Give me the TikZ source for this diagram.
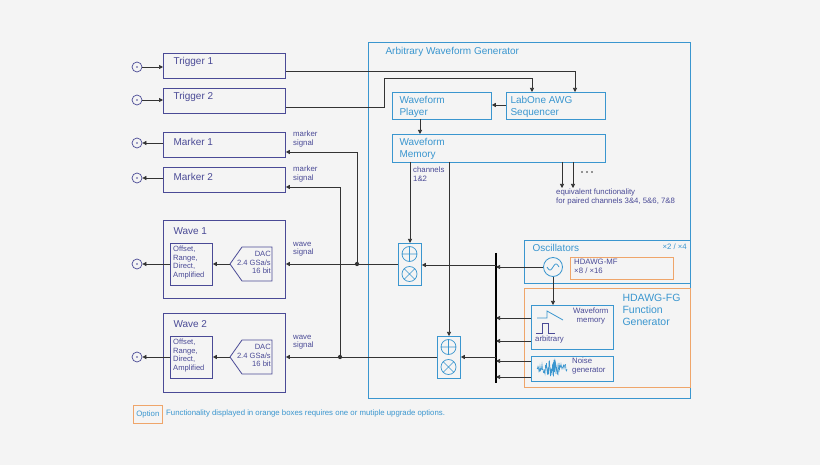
\documentclass[tikz,border=0pt]{standalone}
\usepackage{fontspec}
\setmainfont{Liberation Sans}
\usetikzlibrary{arrows.meta,positioning}
\definecolor{navy}{HTML}{4A4A96}
\definecolor{awgblue}{HTML}{3A96CF}
\definecolor{opt}{HTML}{EFA56A}
\definecolor{bg}{HTML}{F4F4F4}
\definecolor{wire}{HTML}{333333}
\begin{document}
\begin{tikzpicture}[x=1pt,y=-1pt,
	box/.style={draw=navy,line width=0.8pt,anchor=north west,inner sep=0pt},
	bbox/.style={draw=awgblue,line width=0.8pt,anchor=north west,inner sep=0pt},
	obox/.style={draw=opt,line width=0.8pt,anchor=north west,inner sep=0pt},
	title/.style={anchor=west,text=navy,font=\fontsize{10}{12}\selectfont},
	btitle/.style={anchor=north west,text=awgblue,align=left,font=\fontsize{10}{11.5}\selectfont},
	small/.style={anchor=north west,text=navy,align=left,inner sep=1pt,font=\fontsize{7.8}{8.6}\selectfont},
	inbox/.style={small,font=\fontsize{7.6}{8.5}\selectfont},
	jack/.style={draw=navy,circle,line width=0.7pt,minimum size=10pt,inner sep=0pt,
		path picture={\fill[navy] (path picture bounding box.center) circle (0.9pt);}},
	arr/.style={draw=wire,line width=0.7pt,-{Triangle[length=4pt,width=4pt]}},
	dot/.style={fill=wire,circle,inner sep=1.5pt}]
	\fill[bg] (0,0) rectangle (820,465);

	% inputs and outputs on the left
	\foreach \n/\y in {j1/67, j2/100, j3/143, j4/178, j5/264, j6/357}
		\node[jack] (\n) at (137,\y) {};

	\node[box,minimum width=122pt,minimum height=25pt] (trig1) at (163,53) {};
	\node[box,minimum width=122pt,minimum height=25pt] (trig2) at (163,88) {};
	\node[box,minimum width=122pt,minimum height=25pt] (mark1) at (163,132) {};
	\node[box,minimum width=122pt,minimum height=25pt] (mark2) at (163,167) {};
	\node[box,minimum width=122pt,minimum height=78pt] (wave1) at (163,220) {};
	\node[box,minimum width=122pt,minimum height=79pt] (wave2) at (163,313) {};
	\node[title] at (170,62) {Trigger 1};
	\node[title] at (170,97) {Trigger 2};
	\node[title] at (170,142) {Marker 1};
	\node[title] at (170,177) {Marker 2};
	\node[title] at (170,231) {Wave 1};
	\node[title] at (170,324) {Wave 2};

	\foreach \n/\y in {1/243, 2/336} {
		\node[box,minimum width=42pt,minimum height=42pt] (amp\n) at (170,\y) {};
		\node[inbox] at (172,\y+2) {Offset,\\Range,\\Direct,\\Amplified};
		\draw[navy,line width=0.8pt] (272,\y+4) -- (242,\y+4) -- (230,\y+21) -- (242,\y+38) -- (272,\y+38) -- cycle;
		\coordinate (dac\n) at (272,\y+21);
		\coordinate (dacin\n) at (230,\y+21);
		\node[inbox,align=right,anchor=north east] at (272,\y+7) {DAC\\2.4 GSa/s\\16 bit};
	}

	\draw[arr] (j1.east) -- (trig1.west |- j1);
	\draw[arr] (j2.east) -- (trig2.west |- j2);
	\draw[arr] (mark1.west |- j3) -- (j3.east);
	\draw[arr] (mark2.west |- j4) -- (j4.east);
	\draw[arr] (amp1.west |- j5) -- (j5.east);
	\draw[arr] (amp2.west |- j6) -- (j6.east);
	\draw[arr] (dacin1) -- (amp1.east |- dacin1);
	\draw[arr] (dacin2) -- (amp2.east |- dacin2);

	% arbitrary waveform generator
	\node[bbox,minimum width=322pt,minimum height=356pt] (awg) at (368,42) {};
	\node[btitle] at (382,44) {Arbitrary Waveform Generator};
	\node[bbox,minimum width=99pt,minimum height=27pt] (player) at (392,92) {};
	\node[btitle] at (396,93) {Waveform\\Player};
	\node[bbox,minimum width=99pt,minimum height=27pt] (seq) at (506,92) {};
	\node[btitle] at (507,93) {LabOne AWG\\Sequencer};
	\node[bbox,minimum width=213pt,minimum height=28pt] (mem) at (392,134) {};
	\node[btitle] at (396,135) {Waveform\\Memory};

	\draw[arr] (trig1.east |- 0,71) -| (575,92);
	\draw[arr] (trig2.east |- 0,107) -- (384,107) |- (532,78) -- (532,92);
	\draw[arr] (seq.west |- 0,105) -- (player.east |- 0,105);
	\draw[arr] (420,119) -- (420,134);
	\draw[arr] (562,162) -- (562,188);
	\draw[arr] (573,162) -- (573,188);
	\foreach \x in {582,587,592}
		\fill[wire] (\x,172) circle (0.9);
	\node[small] at (555,188) {equivalent functionality\\for paired channels 3\&4, 5\&6, 7\&8};
	\node[small] at (412,166) {channels\\1\&2};

	% adders and multipliers
	\foreach \n/\x/\y in {1/398/243, 2/437/336} {
		\node[bbox,minimum width=23pt,minimum height=42pt] (mix\n) at (\x,\y) {};
		\draw[awgblue,line width=0.7pt] (\x+11.5,\y+11) circle (7.5) (\x+4,\y+11) -- (\x+19,\y+11) (\x+11.5,\y+3.5) -- (\x+11.5,\y+18.5);
		\draw[awgblue,line width=0.7pt] (\x+11.5,\y+31) circle (7.5) (\x+6.2,\y+25.7) -- (\x+16.8,\y+36.3) (\x+6.2,\y+36.3) -- (\x+16.8,\y+25.7);
	}
	\draw[arr] (410,162) -- (mix1.north -| 410,0);
	\draw[arr] (449,162) -- (mix2.north -| 449,0);

	% bus
	\coordinate (bustop) at (496,253);
	\coordinate (busbot) at (496,383);
	\draw[line width=2pt] (bustop) -- (busbot);
	\draw[arr] (496,265) -- (mix1.east |- 0,265);
	\draw[arr] (496,357) -- (mix2.east |- 0,357);

	% outputs of the mixers
	\node[dot] (split1) at (357,264) {};
	\node[dot] (split2) at (340,357) {};
	\draw[arr] (mix1.west |- split1) -- (wave1.east |- split1);
	\draw[arr] (mix2.west |- split2) -- (wave2.east |- split2);
	\draw[arr] (split1) |- (mark1.east |- 0,152);
	\draw[arr] (split2) |- (mark2.east |- 0,187);
	\node[small] at (292,130) {marker\\signal};
	\node[small] at (292,165) {marker\\signal};
	\node[small] at (292,241) {wave\\signal};
	\node[small] at (292,334) {wave\\signal};

	% oscillators
	\node[bbox,minimum width=166pt,minimum height=43pt] (osc) at (524,240) {};
	\node[btitle] at (529,241) {Oscillators};
	\node[small,text=awgblue,anchor=north east] at (688,243) {×2 / ×4};
	\node[obox,minimum width=103pt,minimum height=22pt] (mf) at (570,257) {};
	\node[small] at (573,258) {HDAWG-MF\\×8 / ×16};
	\node[draw=awgblue,circle,line width=0.8pt,minimum size=19pt,inner sep=0pt] (sine) at (553,267) {};
	\draw[awgblue,line width=0.8pt,domain=-6:6,samples=30,smooth] plot (\x+553,{267-3*sin(\x*30)});

	% function generator
	\node[obox,minimum width=166pt,minimum height=99pt] (fg) at (524,288) {};
	\node[btitle,font=\fontsize{10.5}{12}\selectfont] at (619,291) {HDAWG-FG\\Function\\Generator};
	\node[bbox,minimum width=82pt,minimum height=44pt] (wmem) at (531,305) {};
	\node[small,align=center] at (572,307) {Waveform\\memory};
	\node[small] at (534,335) {arbitrary};
	\draw[awgblue,line width=0.8pt] (537,318) -- (547,318) -- (547,311) -- (563,320);
	\draw[navy,line width=0.8pt] (536,333) -- (542,333) -- (542,323) -- (548,323) -- (548,333) -- (555,333);
	\node[bbox,minimum width=82pt,minimum height=25pt] (noise) at (531,356) {};
	\node[small] at (571,357) {Noise\\generator};
	\pgfmathsetseed{7}
	\draw[awgblue,line width=0.6pt] (537,368) \foreach \i in {1,...,60} { -- ({537+\i*0.5},{368+9*rand*(1-abs(\i-30)/45)}) };
	\draw[arr] (sine.south) -- (sine.south |- wmem.north);

	\foreach \y/\s in {267/sine.west, 318/wmem.west, 341/wmem.west, 361/noise.west, 377/noise.west}
		\draw[arr] (\s |- 0,\y) -- (496,\y);

	% legend
	\node[obox,minimum width=29pt,minimum height=18pt] (legend) at (133,405) {};
	\node[small,text=awgblue,anchor=center] at (legend.center) {Option};
	\node[small,text=awgblue,anchor=west] at (165,413) {Functionality displayed in orange boxes requires one or mutiple upgrade options.};
\end{tikzpicture}
\end{document}
